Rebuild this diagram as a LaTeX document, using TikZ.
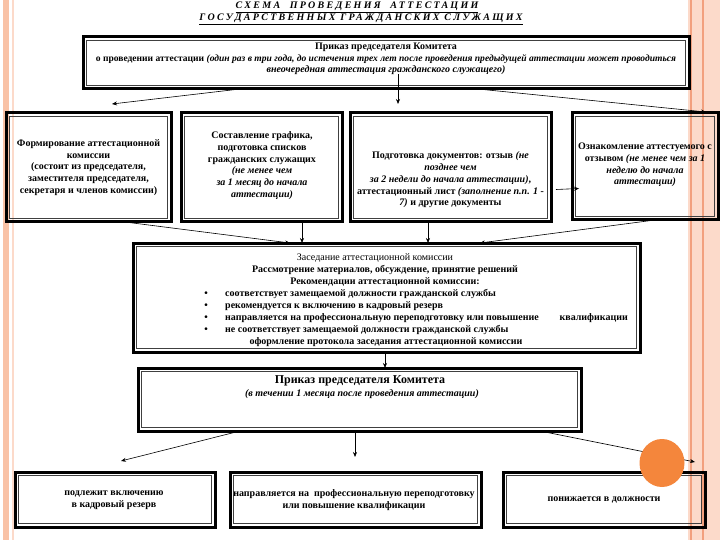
\documentclass[tikz,border=0pt]{standalone}
\usepackage{fontspec}
\setmainfont{Liberation Serif}
\newfontfamily\titlefont[LetterSpace=23]{Liberation Serif}
\usetikzlibrary{arrows.meta}
\definecolor{peach}{HTML}{F9C2A6}
\definecolor{peachlt}{HTML}{FCDACA}
\definecolor{peachln}{HTML}{F2A07E}
\definecolor{dotc}{HTML}{F4863C}
\newcommand\dfont{\bfseries\fontsize{10}{11.8}\selectfont}
\newcommand\tfont{\titlefont\bfseries\itshape\fontsize{10}{11}\selectfont}
\begin{document}
\begin{tikzpicture}[x=1pt,y=-1pt,
  frame/.style={draw, line width=3pt, inner sep=0pt, outer sep=0pt},
  txt/.style={align=center, font=\dfont, inner sep=0pt},
  arr/.style={line width=0.6pt, -{Stealth[length=5pt,width=4pt]}}]
\useasboundingbox (0,0) rectangle (720,540);
% background stripes
\fill[peach] (3,0) rectangle (9,540);
\draw[peachlt, line width=1.2pt] (13,0) -- (13,540);
\fill[peachlt] (688,0) rectangle (720,540);
\draw[peachln, line width=1.6pt] (691,0) -- (691,540);
\draw[peachln, line width=1.6pt] (703,0) -- (703,540);

% title
\node[inner sep=0pt] (t1) at (357,7) {\tfont\underline{СХЕМА\ \ ПРОВЕДЕНИЯ\ \ АТТЕСТАЦИИ}};
\node[inner sep=0pt] (t2) at (361,19) {\tfont\underline{ГОСУДАРСТВЕННЫХ ГРАЖДАНСКИХ СЛУЖАЩИХ}};

% boxes
\node[frame, minimum width=606pt, minimum height=52pt] (top) at (386,63) {};
\node[frame, minimum width=165pt, minimum height=109pt] (ba) at (88.5,167.5) {};
\node[frame, minimum width=161pt, minimum height=109pt] (bb) at (261.5,167.5) {};
\node[frame, minimum width=201pt, minimum height=109pt] (bc) at (450.5,167.5) {};
\node[frame, minimum width=146pt, minimum height=107pt] (bd) at (645,166.5) {};
\node[frame, minimum width=507pt, minimum height=109pt] (meet) at (386.5,297.5) {};
\node[frame, minimum width=443pt, minimum height=63pt] (pr2) at (359.5,399.5) {};
\node[frame, minimum width=200pt, minimum height=55pt] (r1) at (115,499.5) {};
\node[frame, minimum width=251pt, minimum height=55pt] (r2) at (355.5,499.5) {};
\node[frame, minimum width=202pt, minimum height=55pt] (r3) at (604,499.5) {};
\foreach \n in {top,ba,bb,bc,bd,meet,pr2,r1,r2,r3}
  \draw[line width=0.7pt, black!75] ([shift={(3.8pt,-3.8pt)}]\n.north west) rectangle ([shift={(-3.8pt,3.8pt)}]\n.south east);

% texts
\node[txt] (ttop) at (386,59) {Приказ председателя Комитета\\
{\fontsize{9.55}{11.8}\selectfont о проведении аттестации \textit{(один раз в три года, до истечения трех лет после проведения предыдущей аттестации может проводиться}}\\
\textit{внеочередная аттестация гражданского служащего)}};
\node[txt] (ta) at (88.5,167.5) {Формирование аттестационной\\ комиссии\\ (состоит из председателя,\\ заместителя председателя,\\ секретаря и членов комиссии)};
\node[txt] (tb) at (262,165.5) {Составление графика,\\ подготовка списков\\ гражданских служащих\\ \textit{(не менее чем}\\ \textit{за 1 месяц до начала}\\ \textit{аттестации)}};
\node[txt] (tc) at (450.5,180) {Подготовка документов: отзыв \textit{(не}\\ \textit{позднее чем}\\ \textit{за 2 недели до начала аттестации)},\\ аттестационный лист \textit{(заполнение п.п. 1 -}\\ \textit{7)} и другие документы};
\node[txt] (td) at (645,165) {Ознакомление аттестуемого с\\ отзывом \textit{(не менее чем за 1}\\ \textit{неделю до начала}\\ \textit{аттестации)}};

\node[txt, font=\fontsize{10}{11.8}\selectfont] (m1) at (375,258) {Заседание аттестационной комиссии};
\node[txt] (m2) at (385,270) {Рассмотрение материалов, обсуждение, принятие решений};
\node[txt] (m3) at (385,282) {Рекомендации аттестационной комиссии:};
\node[txt, anchor=west] (m4) at (225,294) {соответствует замещаемой должности гражданской службы};
\node[txt, anchor=west] (m5) at (225,306) {рекомендуется к включению в кадровый резерв};
\node[txt, anchor=west] (m6) at (225,318) {направляется на профессиональную переподготовку или повышение};
\node[txt, anchor=east] (m6b) at (628,318) {квалификации};
\node[txt, anchor=west] (m7) at (225,330) {не соответствует замещаемой должности гражданской службы};
\node[txt] (m8) at (386,342) {оформление протокола заседания аттестационной комиссии};
\foreach \yy/\nm in {294/k1,306/k2,318/k3,330/k4}
  \node[txt] (\nm) at (206,\yy) {\textbullet};

\node[txt, font=\bfseries\fontsize{12}{13}\selectfont] (p1) at (360,381) {Приказ председателя Комитета};
\node[txt] (p2) at (362,394) {\textit{(в течении 1 месяца после проведения аттестации)}};

\node[txt] (tr1) at (114,500) {подлежит включению\\ в кадровый резерв};
\node[txt] (tr2) at (354,500) {направляется на\ \ профессиональную переподготовку\\ или повышение квалификации};
\node[txt] (tr3) at (604,500) {понижается в должности};

% free ends
\coordinate (h1) at (112,104);
\coordinate (h2) at (398,104);
\coordinate (h3) at (706,112);
\coordinate (h4) at (121,461);
\coordinate (h5) at (355,457);
\coordinate (h6) at (695,462);

% connectors
\draw[arr] ([xshift=157pt]top.south west) -- (h1);
\draw[arr] ([xshift=315pt,yshift=15pt]top.south west) -- (h2);
\draw[arr] ([xshift=395pt]top.south west) -- (h3);
\draw[arr] ([xshift=119pt]ba.south west) -- ([xshift=157pt]meet.north west);
\draw[arr] ([xshift=121pt]bb.south west) -- ([xshift=169pt]meet.north west);
\draw[arr] ([xshift=78pt]bc.south west) -- ([xshift=295pt]meet.north west);
\draw[arr] ([xshift=83pt]bd.south west) -- ([xshift=347pt]meet.north west);
\draw[arr] ([xshift=5pt,yshift=-22pt]bc.east) -- ([xshift=7pt,yshift=-22pt]bd.west);
\draw[arr] ([xshift=252pt]meet.south west) -- ([xshift=247pt]pr2.north west);
\draw[arr] ([xshift=102pt]pr2.south west) -- (h4);
\draw[arr] ([xshift=217pt]pr2.south west) -- (h5);
\draw[arr] ([xshift=402pt]pr2.south west) -- (h6);

% orange dot
\fill[dotc] (662,463) ellipse [x radius=22.5pt, y radius=24pt];
\end{tikzpicture}
\end{document}
